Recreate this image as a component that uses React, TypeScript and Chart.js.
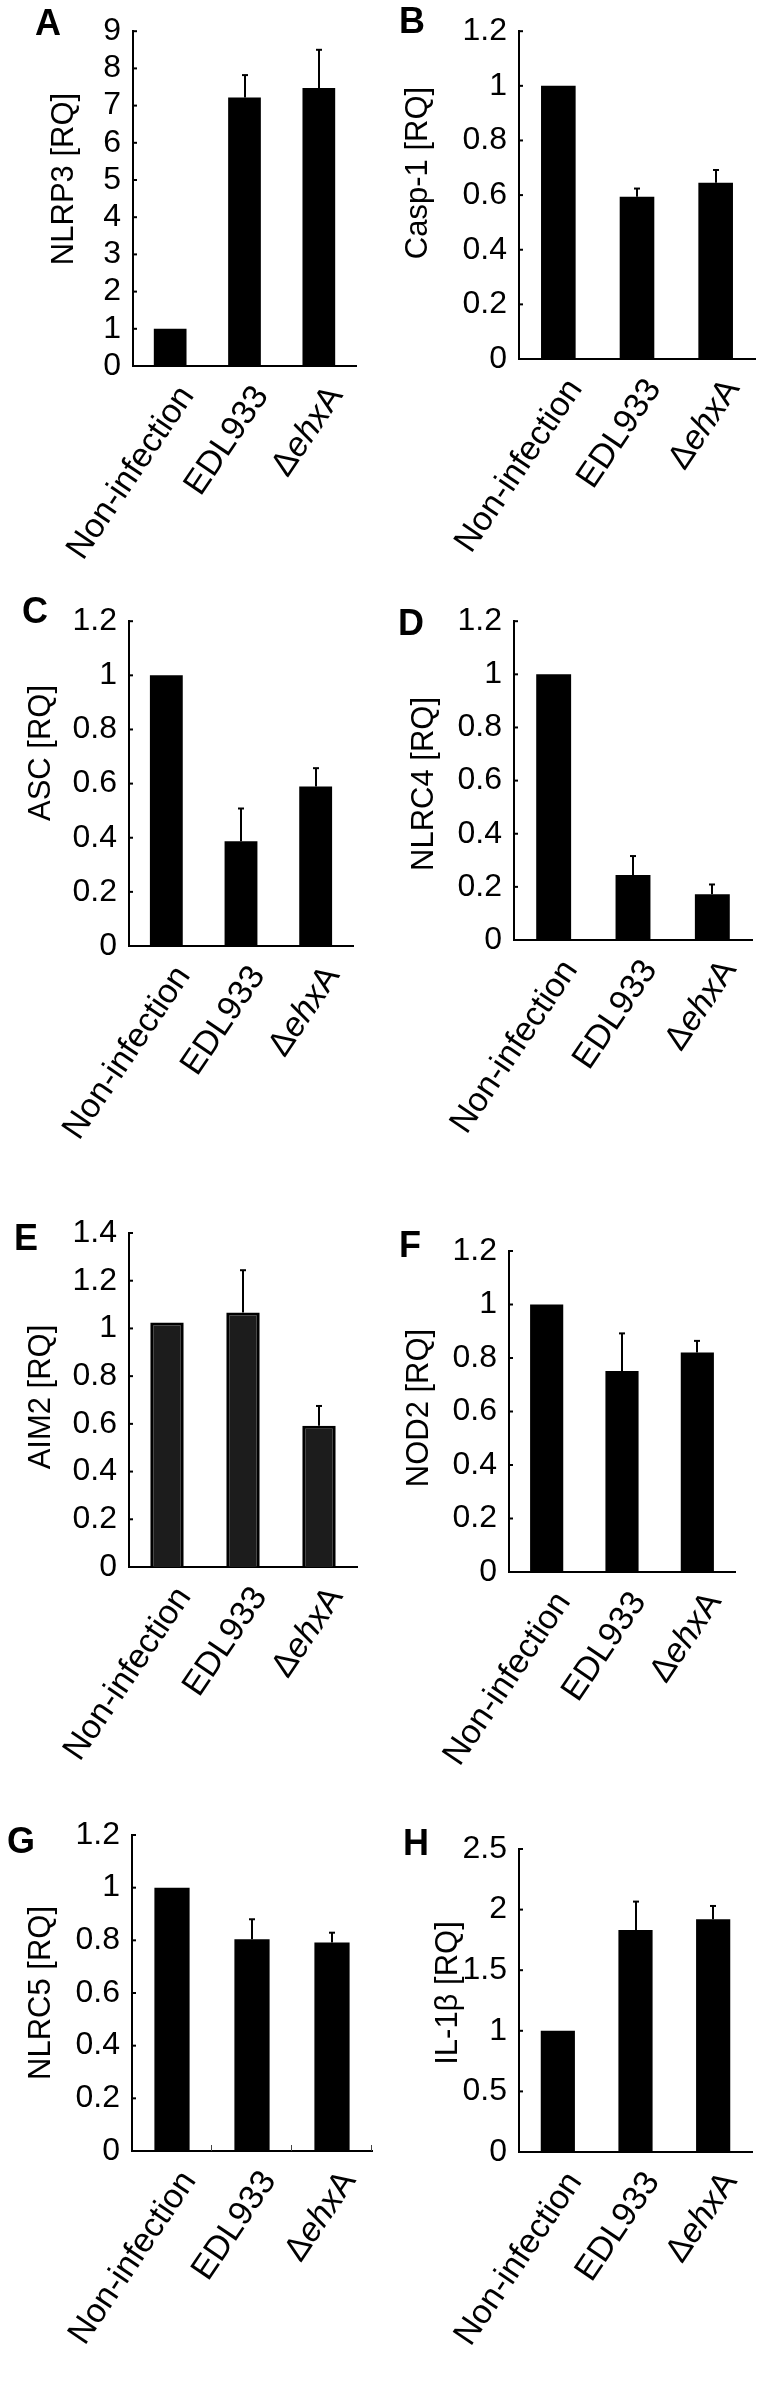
import React, { useEffect, useRef } from 'react';
import { Chart, registerables } from 'chart.js';

Chart.register(...registerables);

const FONT = '"Liberation Sans", Arial, Helvetica, sans-serif';

const categories = ['Non-infection', 'EDL933', 'ΔehxA'];

const nlrp3Values = [1.0, 7.22, 7.47];
const nlrp3Errors = [0, 0.6, 1.03];
const casp1Values = [1.0, 0.594, 0.645];
const casp1Errors = [0, 0.03, 0.047];
const ascValues = [1.0, 0.387, 0.589];
const ascErrors = [0, 0.121, 0.068];
const nlrc4Values = [1.0, 0.245, 0.172];
const nlrc4Errors = [0, 0.071, 0.037];
const aim2Values = [1.025, 1.067, 0.592];
const aim2Errors = [0, 0.177, 0.083];
const nod2Values = [1.0, 0.751, 0.821];
const nod2Errors = [0, 0.141, 0.043];
const nlrc5Values = [1.0, 0.804, 0.792];
const nlrc5Errors = [0, 0.076, 0.037];
const il1bValues = [1.0, 1.832, 1.92];
const il1bErrors = [0, 0.234, 0.11];

const yMaxes = [9, 1.2, 1.2, 1.2, 1.4, 1.2, 1.2, 2.5];
const ySteps = [1, 0.2, 0.2, 0.2, 0.2, 0.2, 0.2, 0.5];
const yTitles = ['NLRP3 [RQ]', 'Casp-1 [RQ]', 'ASC [RQ]', 'NLRC4 [RQ]', 'AIM2 [RQ]', 'NOD2 [RQ]', 'NLRC5 [RQ]', 'IL-1β [RQ]'];
const panelLetters = ['A', 'B', 'C', 'D', 'E', 'F', 'G', 'H'];

type Panel = {
  letter: string; title: string; values: number[]; errors: number[]; yMax: number; yStep: number;
  ox: number; oy: number; h: number; left: number; top: number; bottom: number; right: number;
  titleX: number; titleY: number; letterX: number; letterY: number;
  fill: string; borderWidth: number; boundaryTicks: boolean;
};

const valueSets = [nlrp3Values, casp1Values, ascValues, nlrc4Values, aim2Values, nod2Values, nlrc5Values, il1bValues];
const errorSets = [nlrp3Errors, casp1Errors, ascErrors, nlrc4Errors, aim2Errors, nod2Errors, nlrc5Errors, il1bErrors];

// layout (pixels) per panel
const layouts = [
  { ox: 0, oy: 0, h: 590, left: 133, top: 20, bottom: 366, right: 356, titleX: 64, titleY: 179, letterX: 35, letterY: 35 },
  { ox: 382, oy: 0, h: 590, left: 519, top: 24, bottom: 359, right: 755, titleX: 36, titleY: 173, letterX: 17, letterY: 33 },
  { ox: 0, oy: 590, h: 590, left: 129, top: 617, bottom: 946, right: 353, titleX: 41, titleY: 163, letterX: 22, letterY: 33 },
  { ox: 382, oy: 590, h: 590, left: 514, top: 611, bottom: 940, right: 752, titleX: 42, titleY: 194, letterX: 16, letterY: 45 },
  { ox: 0, oy: 1180, h: 620, left: 129, top: 1233, bottom: 1567, right: 357, titleX: 41, titleY: 217, letterX: 14, letterY: 70 },
  { ox: 382, oy: 1180, h: 620, left: 509, top: 1251, bottom: 1572, right: 735, titleX: 37, titleY: 228, letterX: 17, letterY: 77 },
  { ox: 0, oy: 1800, h: 582, left: 132, top: 1835, bottom: 2151, right: 372, titleX: 41, titleY: 193, letterX: 7, letterY: 53 },
  { ox: 382, oy: 1800, h: 582, left: 519, top: 1849, bottom: 2152, right: 752, titleX: 66, titleY: 193, letterX: 21, letterY: 55 },
];

const panels: Panel[] = layouts.map((l, i) => ({
  ...l,
  letter: panelLetters[i],
  title: yTitles[i],
  values: valueSets[i],
  errors: errorSets[i],
  yMax: yMaxes[i],
  yStep: ySteps[i],
  fill: i === 4 ? '#1c1c1c' : '#000000',
  borderWidth: i === 4 ? 3 : 0,
  boundaryTicks: i === 6,
}));

const PANEL_W = 382;
const LABEL_SIZE = 34;
const LABEL_ANGLE = (-56 * Math.PI) / 180;

function labelSegments(label: string): [string, boolean][] {
  if (label.startsWith('Δ') && label.length > 2) {
    return [['Δ', false], [label.slice(1, -1), true], [label.slice(-1), false]];
  }
  return [[label, false]];
}

function makePlugin(p: Panel) {
  return {
    id: 'panelDecor' + p.letter,
    afterDatasetsDraw(chart: any) {
      const { ctx, chartArea } = chart;
      const xs = chart.scales.x;
      const ys = chart.scales.y;
      ctx.save();
      ctx.strokeStyle = '#000';
      ctx.lineWidth = 2;
      p.values.forEach((v, i) => {
        const e = p.errors[i];
        if (!e) return;
        const cx = Math.round(xs.getPixelForValue(i));
        const y0 = ys.getPixelForValue(v);
        const y1 = ys.getPixelForValue(v + e);
        ctx.beginPath();
        ctx.moveTo(cx, y0);
        ctx.lineTo(cx, y1);
        ctx.stroke();
        ctx.beginPath();
        ctx.moveTo(cx - 3, y1);
        ctx.lineTo(cx + 3, y1);
        ctx.stroke();
      });
      ys.ticks.forEach((_t: any, i: number) => {
        const py = ys.getPixelForTick(i);
        ctx.beginPath();
        ctx.moveTo(chartArea.left, py);
        ctx.lineTo(chartArea.left + 4, py);
        ctx.stroke();
      });
      if (p.boundaryTicks) {
        ctx.lineWidth = 1;
        ctx.strokeStyle = '#444';
        for (let i = 0; i < categories.length; i++) {
          const bx = Math.round(xs.getPixelForValue(i + 0.5)) - 0.5;
          ctx.beginPath();
          ctx.moveTo(bx, chartArea.bottom);
          ctx.lineTo(bx, chartArea.bottom - 6);
          ctx.stroke();
        }
      }
      ctx.restore();
    },
    afterDraw(chart: any) {
      const { ctx, chartArea } = chart;
      const xs = chart.scales.x;
      ctx.save();
      ctx.fillStyle = '#000';
      // x labels
      categories.forEach((c, i) => {
        const cx = xs.getPixelForValue(i);
        const segs = labelSegments(c);
        ctx.save();
        ctx.translate(cx + 17, chartArea.bottom + 24);
        ctx.rotate(LABEL_ANGLE);
        ctx.textAlign = 'left';
        ctx.textBaseline = 'middle';
        let total = 0;
        const widths = segs.map(([t, it]) => {
          ctx.font = `${it ? 'italic ' : ''}${LABEL_SIZE}px ${FONT}`;
          const w = ctx.measureText(t).width;
          total += w;
          return w;
        });
        let x = -total;
        segs.forEach(([t, it], k) => {
          ctx.font = `${it ? 'italic ' : ''}${LABEL_SIZE}px ${FONT}`;
          ctx.fillText(t, x, 0);
          x += widths[k];
        });
        ctx.restore();
      });
      // y title
      ctx.save();
      ctx.translate(p.titleX, p.titleY);
      ctx.rotate(-Math.PI / 2);
      ctx.textAlign = 'center';
      ctx.textBaseline = 'middle';
      ctx.font = `31px ${FONT}`;
      ctx.fillText(p.title, 0, 0);
      ctx.restore();
      // panel letter
      ctx.font = `bold 36px ${FONT}`;
      ctx.textAlign = 'left';
      ctx.textBaseline = 'alphabetic';
      ctx.fillText(p.letter, p.letterX, p.letterY);
      ctx.restore();
    },
  };
}

function BarPanel({ p }: { p: Panel }) {
  const ref = useRef<HTMLCanvasElement>(null);
  useEffect(() => {
    if (!ref.current) return;
    const chart = new Chart(ref.current, {
      type: 'bar',
      data: {
        labels: categories,
        datasets: [
          {
            data: p.values,
            backgroundColor: p.fill,
            borderColor: '#000',
            borderWidth: p.borderWidth,
            barPercentage: 0.44,
            categoryPercentage: 1,
          },
        ],
      },
      options: {
        responsive: false,
        maintainAspectRatio: false,
        animation: false,
        devicePixelRatio: 1,
        layout: {
          padding: {
            left: 0,
            top: p.top - p.oy,
            right: p.ox + PANEL_W - p.right,
            bottom: p.oy + p.h - p.bottom,
          },
        },
        plugins: { legend: { display: false }, tooltip: { enabled: false }, title: { display: false } },
        scales: {
          x: {
            grid: { display: false, drawTicks: false },
            border: { display: true, color: '#000', width: 2 },
            ticks: { display: false },
            afterFit: (s: any) => {
              s.height = 0;
            },
          },
          y: {
            min: 0,
            max: p.yMax,
            grid: { display: false, drawTicks: false },
            border: { display: true, color: '#000', width: 2 },
            ticks: {
              stepSize: p.yStep,
              autoSkip: false,
              color: '#000',
              padding: 12,
              font: { family: FONT, size: 32 },
              callback: (v: any) => String(parseFloat(Number(v).toFixed(2))),
            },
            afterFit: (s: any) => {
              s.width = p.left - p.ox;
            },
          },
        },
      },
      plugins: [makePlugin(p)],
    } as any);
    return () => chart.destroy();
  }, [p]);
  return (
    <canvas
      ref={ref}
      width={PANEL_W}
      height={p.h}
      style={{ position: 'absolute', left: p.ox, top: p.oy, width: PANEL_W, height: p.h }}
    />
  );
}

export default function App() {
  return (
    <div style={{ position: 'absolute', left: 0, top: 0, width: 764, height: 2382, background: '#fff' }}>
      {panels.map((p) => (
        <BarPanel key={p.letter} p={p} />
      ))}
    </div>
  );
}
